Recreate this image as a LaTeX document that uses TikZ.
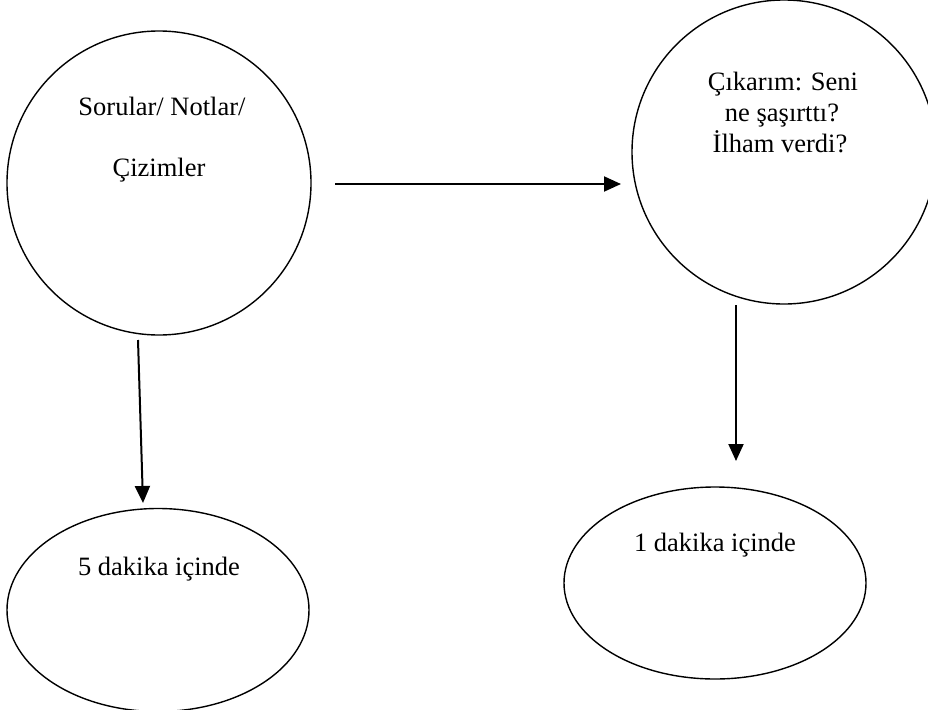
\documentclass[tikz,border=0pt]{standalone}
\usepackage{fontspec}
\setmainfont{Liberation Serif}
\usetikzlibrary{shapes.geometric,arrows.meta}
\begin{document}
\begin{tikzpicture}[x=1pt,y=-1pt,
  shp/.style={draw=black,line width=1.4pt,inner sep=0pt},
  roundbox/.style={shp,circle,minimum size=304pt},
  ovalbox/.style={shp,ellipse,minimum width=302pt,minimum height=200pt},
  txt/.style={anchor=base,inner sep=0pt,font=\fontsize{26.5}{31}\selectfont},
  arr/.style={line width=2pt,-{Triangle[length=17pt,width=15pt]}}]
\useasboundingbox (0,0) rectangle (928,709);
% shapes
\node[roundbox] (c1) at (159,183) {};
\node[roundbox] (c2) at (784,152) {};
\node[ovalbox, minimum height=203pt] (e1) at (158,610) {};
\node[ovalbox, minimum height=192pt] (e2) at (715,583) {};
% texts
\node[txt] (t1a) at (162,115) {Sorular/ Notlar/};
\node[txt] (t1b) at (159,176) {Çizimler};
\node[txt] (t2a) at (783,90) {Çıkarım: Seni};
\node[txt] (t2b) at (782,121) {ne şaşırttı?};
\node[txt] (t2c) at (780,152) {İlham verdi?};
\node[txt] (t3) at (159,575) {5 dakika içinde};
\node[txt] (t4) at (715,551) {1 dakika içinde};
% arrow end points
\coordinate (h1) at (335,184);
\coordinate (h2) at (621,184);
\coordinate (v1) at (138,340);
\coordinate (v2) at (143,503);
\coordinate (w1) at (736,305);
\coordinate (w2) at (736,461);
\draw[arr] (h1) -- (h2);
\draw[arr] (v1) -- (v2);
\draw[arr] (w1) -- (w2);
\end{tikzpicture}
\end{document}
